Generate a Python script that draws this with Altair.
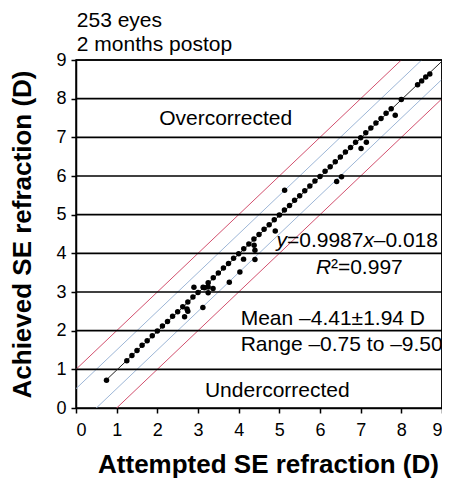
import altair as alt
import pandas as pd

FONT = "Liberation Sans"

# Attempted vs achieved SE refraction (D), 253 eyes (overlapping points merged)
attempted = [0.75, 1.25, 1.375, 1.5, 1.625, 1.75, 1.875, 2.0, 2.125, 2.25, 2.375,
             2.5, 2.625, 2.75, 2.875, 3.0, 3.125, 3.25, 3.375, 3.5, 3.625, 3.75,
             3.875, 4.0, 4.125, 4.25, 4.375, 4.5, 4.625, 4.75, 4.875, 5.0, 5.125,
             5.25, 5.375, 5.5, 5.625, 5.75, 5.875, 6.0, 6.125, 6.25, 6.375, 6.5,
             6.625, 6.75, 6.875, 7.0, 7.125, 7.25, 7.375, 7.5, 7.625, 7.75, 8.0,
             8.4, 8.5, 8.6, 8.7,
             2.67, 2.75, 2.73, 2.90, 3.12, 3.16, 3.25, 3.37, 3.25, 3.77, 4.03,
             4.12, 4.40, 4.40, 4.38, 4.90, 5.13, 6.41, 6.53, 7.01, 7.14, 7.85]
achieved = [0.72, 1.22, 1.36, 1.49, 1.62, 1.74, 1.87, 1.99, 2.12, 2.24, 2.37,
            2.49, 2.62, 2.74, 2.87, 2.99, 3.12, 3.24, 3.37, 3.49, 3.62, 3.74,
            3.87, 3.99, 4.12, 4.24, 4.37, 4.49, 4.62, 4.74, 4.87, 4.99, 5.12,
            5.24, 5.37, 5.49, 5.62, 5.74, 5.87, 5.99, 6.12, 6.24, 6.37, 6.49,
            6.62, 6.74, 6.87, 6.99, 7.12, 7.24, 7.37, 7.49, 7.62, 7.74, 7.98,
            8.36, 8.46, 8.56, 8.64,
            2.36, 2.50, 2.56, 3.12, 2.60, 3.11, 3.13, 3.09, 2.98, 3.25, 3.52,
            3.85, 3.84, 4.08, 4.21, 4.58, 5.63, 5.86, 5.98, 6.71, 6.87, 7.57]

hlines = [1, 2, 3, 4, 5, 6, 7, 8, 9]
band_offsets = [-1.0, -0.5, 0.5, 1.0]
band_colors = ["#d2506e", "#9db6d6", "#9db6d6", "#d2506e"]
line_x = [0.0, 9.0]
slope, intercept = 0.9987, -0.018
reg_x = [0.75, 9.0]

xs = alt.Scale(domain=[0, 9], nice=False, zero=False)
ys = alt.Scale(domain=[0, 9], nice=False, zero=False)

pts = pd.DataFrame({"attempted": attempted, "achieved": achieved})

xaxis = alt.Axis(values=list(range(10)), grid=False, labelFont=FONT, labelFontSize=18,
                 labelColor="black", tickColor="black", tickSize=5, tickWidth=1.5,
                 domainColor="black", domainWidth=1.5, labelPadding=8,
                 title="Attempted SE refraction (D)", titleFont=FONT, titleFontSize=26,
                 titleFontWeight="bold", titleColor="black", titlePadding=12, titleX=192)
yaxis = alt.Axis(values=list(range(10)), grid=False, labelFont=FONT, labelFontSize=18,
                 labelColor="black", tickColor="black", tickSize=5, tickWidth=1.5,
                 domainColor="black", domainWidth=1.5, labelPadding=5,
                 title="Achieved SE refraction (D)", titleFont=FONT, titleFontSize=26,
                 titleFontWeight="bold", titleColor="black", titlePadding=20)

X = lambda f: alt.X(f, scale=xs, axis=xaxis)
Y = lambda f: alt.Y(f, scale=ys, axis=yaxis)

band_rows = []
for off, col in zip(band_offsets, band_colors):
    for xv in line_x:
        band_rows.append({"x": xv, "y": xv + off, "k": str(off), "c": col})
bands = alt.Chart(pd.DataFrame(band_rows)).mark_line(strokeWidth=1, clip=True).encode(
    x=X("x:Q"), y=Y("y:Q"), detail="k:N", color=alt.Color("c:N", scale=None))

rules = alt.Chart(pd.DataFrame({"y": hlines})).mark_rule(color="black", strokeWidth=1.7).encode(
    y=Y("y:Q"))

vborder = alt.Chart(pd.DataFrame({"x": [9]})).mark_rule(color="black", strokeWidth=1.5).encode(
    x=X("x:Q"))

reg = alt.Chart(pd.DataFrame({"x": reg_x, "y": [slope * v + intercept for v in reg_x]})).mark_line(
    color="#222222", strokeWidth=1, clip=True).encode(x=X("x:Q"), y=Y("y:Q"))

points = alt.Chart(pts).mark_circle(color="black", size=30, opacity=1).encode(
    x=X("attempted:Q"), y=Y("achieved:Q"))


def label(x, y, text, align="left", italic=False, dx=0):
    return alt.Chart(pd.DataFrame({"x": [x], "y": [y], "t": [text]})).mark_text(
        align=align, baseline="alphabetic", fontSize=21, font=FONT,
        fontStyle="italic" if italic else "normal", color="black", dx=dx).encode(
        x=X("x:Q"), y=Y("y:Q"), text="t:N")


texts = [
    label(0.02, 9.85, "253 eyes"),
    label(0.02, 9.23, "2 months postop"),
    label(3.68, 7.32, "Overcorrected", align="center"),
    label(8.9, 4.17, "\u20130.018", align="right"),
    label(8.9, 4.17, "x", align="right", italic=True, dx=-64),
    label(8.9, 4.17, "=0.9987", align="right", dx=-74.5),
    label(8.9, 4.17, "y", align="right", italic=True, dx=-151),
    label(5.9, 3.46, "R", italic=True),
    label(5.9, 3.46, "\u00b2=0.997", dx=15),
    label(4.05, 2.15, "Mean \u20134.41\u00b11.94 D"),
    label(4.05, 1.48, "Range \u20130.75 to \u20139.50"),
    label(4.95, 0.29, "Undercorrected", align="center"),
]

chart = alt.layer(bands, rules, vborder, reg, points, *texts).properties(
    width=366, height=348, background="white",
    autosize=alt.AutoSizeParams(type="none"),
    padding={"left": 68, "top": 52, "right": 0, "bottom": 73},
).configure_view(stroke="black", strokeWidth=1.5)

chart.save("out.html", embed_options={"renderer": "svg", "actions": False})
